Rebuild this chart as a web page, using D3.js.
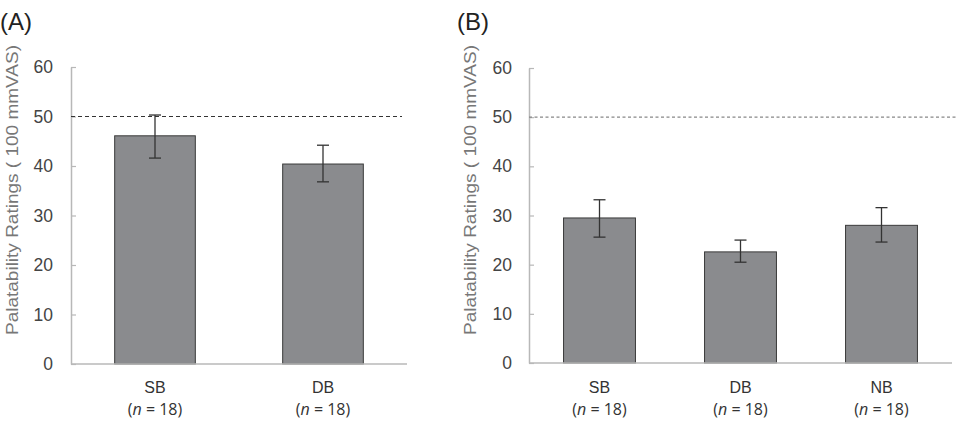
<!DOCTYPE html>
<html><head><meta charset="utf-8">
<script src="https://cdn.jsdelivr.net/npm/d3@7"></script>
<style>body{margin:0;background:#fff}svg{display:block}</style>
</head><body>
<svg id="c" width="973" height="430"></svg>
<script>
// ---- data ----
const categoriesA = ["SB", "DB"];
const meansA = [46.1, 40.4];
const errLowA = [41.6, 36.8];
const errHighA = [50.3, 44.2];
const categoriesB = ["SB", "DB", "NB"];
const meansB = [29.5, 22.6, 28.0];
const errLowB = [25.6, 20.5, 24.6];
const errHighB = [33.2, 25.0, 31.6];
const sampleLabels = ["(n = 18)", "(n = 18)", "(n = 18)"];
const yTicks = [0, 10, 20, 30, 40, 50, 60];
const yDomain = [0, 60];
const refValue = 50;
const yTitle = "Palatability Ratings ( 100 mmVAS)";

const svg = d3.select("#c");

function panel(cfg) {
  const g = svg.append("g");
  const y = d3.scaleLinear().domain(yDomain).range([cfg.y0, cfg.y1]);
  const x = d3.scaleBand().domain(cfg.cats).range([cfg.x0, cfg.x1]).paddingInner(cfg.pad).paddingOuter(cfg.pad / 2);

  // panel label
  g.append("text").attr("x", cfg.labelX).attr("y", 30)
    .attr("font-family", "Liberation Sans, Arial, sans-serif").attr("font-size", 24).attr("fill", "#222")
    .text(cfg.label);

  // y axis
  const ax = g.append("g").attr("transform", `translate(${cfg.x0},0)`)
    .call(d3.axisLeft(y).tickValues(yTicks).tickSizeInner(-5).tickSizeOuter(0).tickPadding(cfg.tickPad));
  ax.select(".domain").attr("stroke", "#b8b8b8").attr("stroke-width", 1.5);
  ax.selectAll(".tick line").attr("stroke", "#b8b8b8").attr("stroke-width", 1.2);
  ax.selectAll(".tick text").attr("font-family", "Liberation Sans, Arial, sans-serif")
    .attr("font-size", 17.5).attr("fill", "#444");

  // y title
  g.append("text")
    .attr("transform", `translate(${cfg.titleX},${cfg.titleY}) rotate(-90)`)
    .attr("text-anchor", "middle")
    .attr("font-family", "Liberation Sans, Arial, sans-serif").attr("font-size", 16)
    .attr("textLength", 290).attr("lengthAdjust", "spacingAndGlyphs")
    .attr("fill", "#777").text(yTitle);

  // reference dashed line
  g.append("line").attr("x1", cfg.x0).attr("x2", cfg.refX2)
    .attr("y1", y(refValue)).attr("y2", y(refValue))
    .attr("stroke", cfg.refColor).attr("stroke-width", 1.2).attr("stroke-dasharray", cfg.dash);

  // bars
  g.selectAll("rect.bar").data(cfg.cats).enter().append("rect")
    .attr("x", d => x(d)).attr("width", x.bandwidth())
    .attr("y", (d, i) => y(cfg.means[i])).attr("height", (d, i) => y(0) - y(cfg.means[i]))
    .attr("fill", "#8a8b8e").attr("stroke", "#3a3a3a").attr("stroke-width", 1);

  // x axis line
  g.append("line").attr("x1", cfg.x0).attr("x2", cfg.x1).attr("y1", y(0)).attr("y2", y(0))
    .attr("stroke", "#b8b8b8").attr("stroke-width", 1.5);

  // error bars
  cfg.cats.forEach((c, i) => {
    const cx = x(c) + x.bandwidth() / 2;
    const eg = g.append("g").attr("stroke", "#333").attr("stroke-width", 1.3);
    eg.append("line").attr("x1", cx).attr("x2", cx).attr("y1", y(cfg.lo[i])).attr("y2", y(cfg.hi[i]));
    eg.append("line").attr("x1", cx - 6).attr("x2", cx + 6).attr("y1", y(cfg.lo[i])).attr("y2", y(cfg.lo[i]));
    eg.append("line").attr("x1", cx - 6).attr("x2", cx + 6).attr("y1", y(cfg.hi[i])).attr("y2", y(cfg.hi[i]));
  });

  // category labels
  cfg.cats.forEach((c, i) => {
    const cx = x(c) + x.bandwidth() / 2;
    g.append("text").attr("x", cx).attr("y", 393).attr("text-anchor", "middle")
      .attr("font-family", "Liberation Sans, Arial, sans-serif").attr("font-size", 16).attr("fill", "#333").text(c);
    const s = sampleLabels[i];
    const t = g.append("text").attr("x", cx).attr("y", 415).attr("text-anchor", "middle")
      .attr("font-family", "'Open Sans', Lato, sans-serif").attr("font-size", 16).attr("fill", "#333");
    t.append("tspan").text("(");
    t.append("tspan").attr("font-style", "italic").text("n");
    t.append("tspan").text(s.slice(2));
  });
}

panel({
  label: "(A)", labelX: 0, cats: categoriesA, means: meansA, lo: errLowA, hi: errHighA,
  x0: 71, x1: 407, y0: 364, y1: 67, pad: 0.52, tickPad: 18,
  titleX: 18, titleY: 190, refX2: 402, refColor: "#333", dash: "4,3"
});
panel({
  label: "(B)", labelX: 457, cats: categoriesB, means: meansB, lo: errLowB, hi: errHighB,
  x0: 529, x1: 952, y0: 363, y1: 68, pad: 0.49, tickPad: 17,
  titleX: 476, titleY: 190, refX2: 957, refColor: "#888", dash: "3,2.5"
});
</script>
</body></html>
